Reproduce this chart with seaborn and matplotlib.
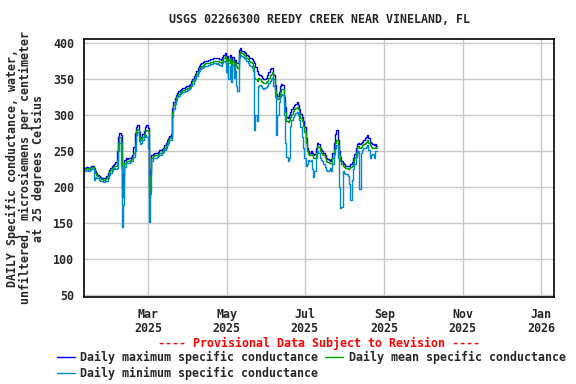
import numpy as np
import pandas as pd
import matplotlib
matplotlib.use('Agg')
import matplotlib.pyplot as plt
import seaborn as sns

start_date = '2025-01-10'

mean_cond = [
    225, 225, 226, 226, 225, 226, 228, 228, 224, 220,
    217, 215, 213, 212, 211, 210, 210, 211, 212, 216,
    221, 224, 226, 228, 229, 230, 238, 262, 270, 262,
    186, 205, 234, 237, 236, 237, 238, 239, 240, 248,
    262, 279, 281, 270, 265, 266, 270, 274, 278, 280,
    278, 186, 215, 240, 243, 244, 244, 245, 246, 248,
    248, 250, 252, 255, 258, 262, 265, 268, 270, 305,
    314, 320, 325, 328, 330, 332, 334, 335, 335, 336,
    337, 338, 339, 341, 344, 347, 350, 354, 358, 362,
    365, 367, 369, 370, 371, 372, 372, 373, 373, 374,
    374, 375, 375, 375, 376, 375, 374, 373, 377, 380,
    382, 375, 378, 372, 380, 368, 376, 362, 372, 368,
    366, 385, 388, 386, 385, 384, 383, 380, 378, 376,
    374, 372, 369, 352, 350, 348, 352, 350, 348, 346,
    345, 345, 346, 348, 352, 356, 358, 360, 350, 335,
    325, 322, 326, 332, 337, 336, 318, 305, 292, 290,
    294, 298, 302, 306, 308, 310, 312, 308, 302, 296,
    292, 285, 276, 262, 250, 246, 244, 246, 244, 241,
    240, 248, 257, 256, 250, 248, 246, 244, 240, 236,
    235, 234, 233, 234, 240, 252, 262, 266, 258, 245,
    237, 232, 230, 228, 226, 226, 225, 226, 228, 230,
    234, 240, 248, 256, 257, 255, 256, 258, 260, 261,
    263, 265, 262, 258, 256, 255, 254, 256, 254,
]

max_cond = [
    227, 227, 228, 228, 227, 228, 230, 230, 227, 223,
    219, 217, 215, 214, 213, 212, 212, 213, 215, 219,
    224, 227, 229, 231, 232, 235, 250, 270, 275, 272,
    200, 218, 238, 240, 239, 240, 241, 242, 244, 256,
    275, 284, 286, 276, 268, 270, 274, 278, 283, 286,
    282, 200, 225, 244, 246, 247, 247, 248, 249, 251,
    251, 253, 255, 258, 261, 265, 268, 271, 274, 310,
    318, 324, 328, 331, 333, 335, 337, 338, 338, 339,
    340, 341, 342, 344, 347, 350, 354, 358, 362, 366,
    369, 371, 373, 374, 375, 376, 376, 377, 377, 378,
    378, 379, 379, 379, 380, 379, 378, 377, 381, 384,
    386, 380, 383, 377, 384, 374, 381, 370, 377, 373,
    372, 391, 393, 390, 389, 388, 387, 384, 382, 380,
    380, 378, 376, 373, 367, 362, 358, 356, 354, 352,
    350, 350, 352, 356, 360, 364, 366, 365, 356, 342,
    330, 327, 332, 340, 344, 342, 325, 312, 298, 296,
    300, 304, 308, 312, 314, 316, 318, 314, 308, 302,
    298, 292, 283, 268, 255, 250, 248, 250, 248, 245,
    246, 254, 262, 260, 254, 252, 250, 248, 244, 240,
    239, 238, 237, 239, 248, 262, 274, 279, 266, 250,
    242, 236, 234, 232, 230, 230, 229, 230, 232, 235,
    240, 246, 254, 260, 262, 260, 261, 263, 266, 268,
    270, 272, 268, 263, 261, 260, 258, 260, 257,
]

min_cond = [
    223, 223, 224, 224, 223, 224, 226, 225, 210, 214,
    213, 212, 210, 209, 208, 207, 207, 208, 209, 212,
    217, 220, 223, 225, 226, 225, 226, 250, 262, 230,
    145, 175, 228, 233, 233, 234, 235, 236, 237, 242,
    250, 272, 276, 264, 260, 262, 266, 270, 272, 270,
    255, 152, 190, 236, 240, 241, 241, 242, 243, 245,
    245, 247, 249, 252, 255, 258, 262, 265, 266, 298,
    308, 315, 321, 325, 327, 329, 331, 332, 332, 333,
    334, 335, 336, 338, 341, 344, 347, 351, 355, 359,
    362, 364, 366, 367, 368, 369, 369, 370, 370, 371,
    371, 372, 372, 371, 372, 371, 370, 368, 372, 375,
    374, 360, 372, 350, 368, 346, 370, 352, 362, 340,
    333, 380, 384, 382, 381, 379, 378, 375, 372, 370,
    368, 366, 362, 280, 300, 292, 340, 342, 340, 338,
    337, 338, 339, 341, 345, 348, 350, 352, 340, 325,
    272, 300, 318, 326, 330, 328, 300, 262, 242, 236,
    240, 285, 294, 298, 300, 303, 305, 300, 293, 284,
    270, 255, 240, 230, 232, 238, 237, 238, 225, 214,
    222, 240, 250, 248, 240, 238, 236, 232, 228, 224,
    222, 224, 226, 222, 232, 246, 255, 258, 240, 200,
    171, 172, 222, 220, 218, 218, 216, 205, 182, 210,
    225, 232, 242, 248, 250, 198, 248, 252, 254, 255,
    256, 258, 252, 240, 245, 246, 240, 250, 250,
]

tick_dates = ['2025-03-01', '2025-05-01', '2025-07-01', '2025-09-01', '2025-11-01', '2026-01-01']
tick_labels = ['Mar\n2025', 'May\n2025', 'Jul\n2025', 'Sep\n2025', 'Nov\n2025', 'Jan\n2026']
y_ticks = [50, 100, 150, 200, 250, 300, 350, 400]

dates = pd.date_range(start_date, periods=len(mean_cond), freq='D')
df = pd.DataFrame({'date': dates, 'max': max_cond, 'mean': mean_cond, 'min': min_cond})

sns.set_style('white')
plt.rcParams['font.family'] = ['DejaVu Sans Mono']
plt.rcParams['font.weight'] = 'bold'
fs = 8.4

fig = plt.figure(figsize=(5.76, 3.84), dpi=100)
ax = fig.add_axes([0.1458, 0.2273, 0.8160, 0.6704])

c_max, c_mean, c_min = '#0000ee', '#00a000', '#0088d0'
sns.lineplot(data=df, x='date', y='max', ax=ax, color=c_max, lw=1, drawstyle='steps-mid',
             label='Daily maximum specific conductance')
sns.lineplot(data=df, x='date', y='mean', ax=ax, color=c_mean, lw=1, drawstyle='steps-mid',
             label='Daily mean specific conductance')
sns.lineplot(data=df, x='date', y='min', ax=ax, color=c_min, lw=1, drawstyle='steps-mid',
             label='Daily minimum specific conductance')

ax.set_xlim(pd.Timestamp('2025-01-10'), pd.Timestamp('2026-01-11'))
ax.set_ylim(47.6, 405.6)
ax.set_xticks(pd.to_datetime(tick_dates))
ax.set_xticklabels(tick_labels, fontsize=fs, fontweight='bold', linespacing=1.15)
ax.set_yticks(y_ticks)
ax.set_yticklabels([str(v) for v in y_ticks], fontsize=fs, fontweight='bold')
ax.tick_params(axis='y', length=0, pad=7)
ax.tick_params(axis='x', length=0, pad=8)
ax.grid(True, color='#c8c8c8', lw=1)
for s in ax.spines.values():
    s.set_color('black')
    s.set_linewidth(1.2)
ax.set_xlabel('')
ax.set_ylabel('DAILY Specific conductance, water,\nunfiltered, microsiemens per centimeter\nat 25 degrees Celsius',
              fontsize=fs, fontweight='bold', linespacing=1.0, labelpad=6)

fig.text(0.554, 0.949, 'USGS 02266300 REEDY CREEK NEAR VINELAND, FL', ha='center', va='center',
         fontsize=fs, fontweight='bold')
fig.text(0.554, 0.106, '---- Provisional Data Subject to Revision ----', ha='center', va='center',
         fontsize=fs, fontweight='bold', color='red')

handles, labels = ax.get_legend_handles_labels()
ax.get_legend().remove()
order = [0, 2, 1]
fig.legend([handles[i] for i in order], [labels[i] for i in order], ncol=2,
           loc='upper left', bbox_to_anchor=(0.099, 0.087), frameon=False,
           fontsize=fs, handlelength=1.5, handletextpad=0.5, columnspacing=0.6,
           labelspacing=0.3, borderpad=0, borderaxespad=0,
           prop={'size': fs, 'weight': 'bold'})

fig.savefig('out.png', dpi=100)
